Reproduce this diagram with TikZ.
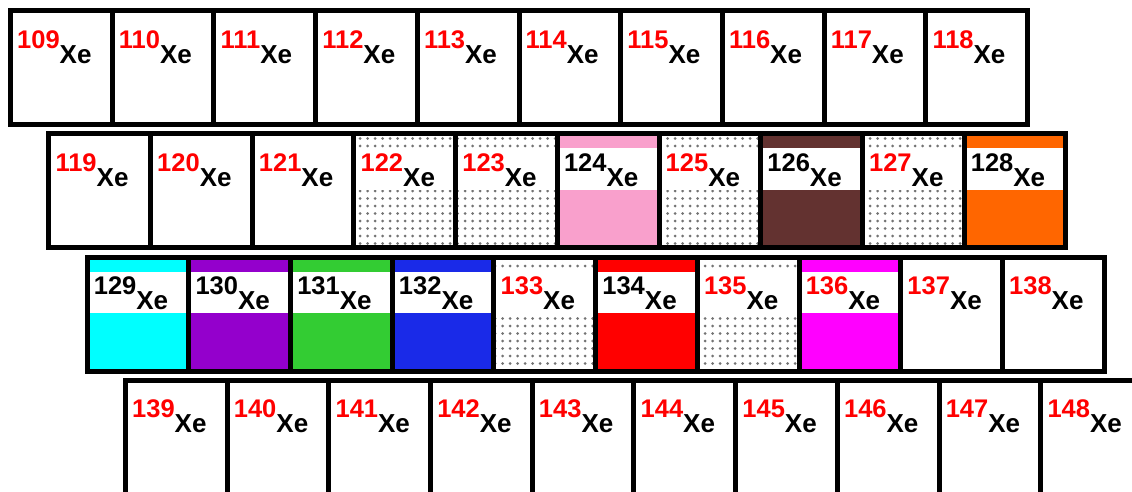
\documentclass[tikz,border=0pt]{standalone}
\usepackage{fontspec}
\setmainfont{Liberation Sans}
\usepackage{tikz}
\usetikzlibrary{positioning, calc, patterns}
\definecolor{xepink}{RGB}{249,160,204}
\definecolor{xebrown}{RGB}{99,50,48}
\definecolor{xeorange}{RGB}{255,102,0}
\definecolor{xecyan}{RGB}{0,255,255}
\definecolor{xepurple}{RGB}{148,0,204}
\definecolor{xegreen}{RGB}{51,204,51}
\definecolor{xeblue}{RGB}{26,42,232}
\definecolor{xered}{RGB}{255,0,0}
\definecolor{xemagenta}{RGB}{255,0,255}
\pgfdeclarepatternformonly{xedots}{\pgfqpoint{-2pt}{-2pt}}{\pgfqpoint{2pt}{2pt}}{\pgfqpoint{7.5pt}{7.5pt}}{%
  \pgfpathcircle{\pgfpointorigin}{1.5pt}\pgfusepath{fill}}

\begin{document}
\begin{tikzpicture}[x=1pt, y=-1pt,
    cell/.style={rectangle, draw=black, line width=5pt, minimum width=101.7pt,
                 minimum height=114pt, inner sep=0pt, outer sep=0pt, anchor=north west},
    band/.style={path picture={
        \fill[white] ($(path picture bounding box.north west)+(0,14.5)$)
          rectangle ($(path picture bounding box.north east)+(0,56)$);}},
    xeplain/.style={},
    xespeck/.style={pattern=xedots, pattern color=black!55, band},
    tag/.style={anchor=base west, inner sep=0pt, font=\bfseries}]
  \useasboundingbox (0,0) rectangle (1132,491);
  \fill[white] (0,0) rectangle (1132,491);
  \clip (0,0) rectangle (1132,491);
  % four shifted rows of ten xenon isotopes
  \foreach \r/\cells in {
      0/{109/xeplain/white/red, 110/xeplain/white/red, 111/xeplain/white/red,
         112/xeplain/white/red, 113/xeplain/white/red, 114/xeplain/white/red,
         115/xeplain/white/red, 116/xeplain/white/red, 117/xeplain/white/red,
         118/xeplain/white/red},
      1/{119/xeplain/white/red, 120/xeplain/white/red, 121/xeplain/white/red,
         122/xespeck/none/red, 123/xespeck/none/red, 124/band/xepink/black,
         125/xespeck/none/red, 126/band/xebrown/black, 127/xespeck/none/red,
         128/band/xeorange/black},
      2/{129/band/xecyan/black, 130/band/xepurple/black, 131/band/xegreen/black,
         132/band/xeblue/black, 133/xespeck/none/red, 134/band/xered/black,
         135/xespeck/none/red, 136/band/xemagenta/red, 137/xeplain/white/red,
         138/xeplain/white/red},
      3/{139/xeplain/white/red, 140/xeplain/white/red, 141/xeplain/white/red,
         142/xeplain/white/red, 143/xeplain/white/red, 144/xeplain/white/red,
         145/xeplain/white/red, 146/xeplain/white/red, 147/xeplain/white/red,
         148/xeplain/white/red}} {
    \foreach \m/\look/\tint/\tc [count=\i from 0] in \cells {
      \node[cell, fill=\tint, \look] (c\m)
        at ({10.5+38.33*\r+101.7*\i}, {10.5+123.3*\r}) {};
      \node[tag] (t\m) at ($(c\m.north west)+(6.5,37.5)$)
        {\fontsize{25.5}{25.5}\selectfont\color{\tc}\m%
         \raisebox{-15pt}{\color{black}\fontsize{26}{26}\selectfont Xe}};
    }
  }
\end{tikzpicture}
\end{document}
